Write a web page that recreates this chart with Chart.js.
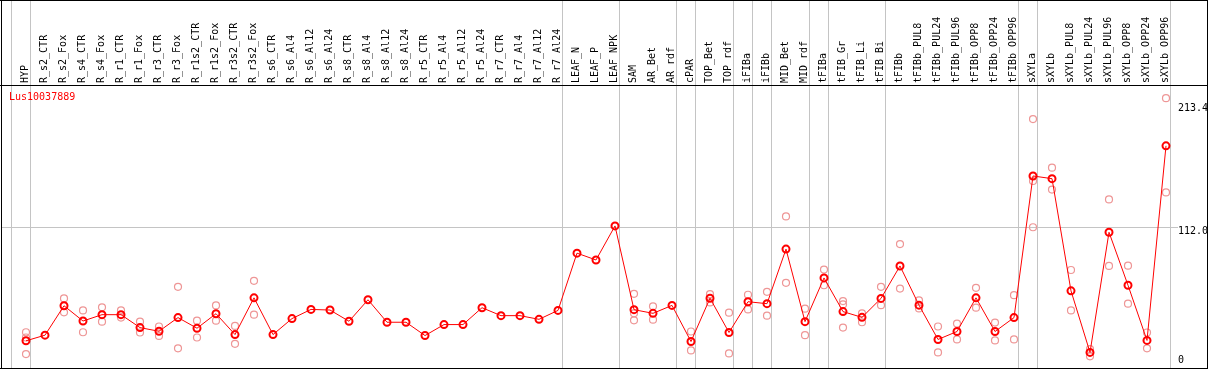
<!DOCTYPE html>
<html>
<head>
<meta charset="utf-8">
<script src="https://cdn.jsdelivr.net/npm/chart.js@4/dist/chart.umd.min.js"></script>
<style>
  html, body { margin: 0; padding: 0; background: #ffffff; }
  #wrap { width: 1209px; height: 370px; position: relative; }
</style>
</head>
<body>
<div id="wrap"><canvas id="c" width="1209" height="370"></canvas></div>
<script>
const geneName = "Lus10037889";

const categories = [
  "HYP","R_s2_CTR","R_s2_Fox","R_s4_CTR","R_s4_Fox","R_r1_CTR","R_r1_Fox","R_r3_CTR","R_r3_Fox",
  "R_r1s2_CTR","R_r1s2_Fox","R_r3s2_CTR","R_r3s2_Fox","R_s6_CTR","R_s6_Al4","R_s6_Al12","R_s6_Al24",
  "R_s8_CTR","R_s8_Al4","R_s8_Al12","R_s8_Al24","R_r5_CTR","R_r5_Al4","R_r5_Al12","R_r5_Al24",
  "R_r7_CTR","R_r7_Al4","R_r7_Al12","R_r7_Al24","LEAF_N","LEAF_P","LEAF_NPK","SAM","AR_Bet","AR_rdf",
  "cPAR","TOP_Bet","TOP_rdf","iFIBa","iFIBb","MID_Bet","MID_rdf","tFIBa","tFIB_Gr","tFIB_Li","tFIB_Bi",
  "tFIBb","tFIBb_PUL8","tFIBb_PUL24","tFIBb_PUL96","tFIBb_OPP8","tFIBb_OPP24","tFIBb_OPP96",
  "sXYLa","sXYLb","sXYLb_PUL8","sXYLb_PUL24","sXYLb_PUL96","sXYLb_OPP8","sXYLb_OPP24","sXYLb_OPP96"
];

const meanValues = [
  19.0, 23.6, 47.7, 35.2, 40.4, 40.4, 29.8, 26.8, 38.0,
  29.3, 41.2, 24.1, 54.2, 24.1, 37.2, 44.7, 44.2,
  35.0, 52.6, 34.2, 34.2, 23.3, 32.3, 32.3, 46.1,
  39.6, 39.6, 36.6, 43.9, 90.8, 85.2, 113.1, 44.5, 41.5, 48.0,
  18.4, 53.9, 25.8, 51.0, 49.4, 94.1, 34.7, 70.5, 42.9, 38.2, 53.7,
  80.3, 48.2, 20.1, 26.6, 54.2, 26.6, 38.0,
  154.0, 151.8, 59.9, 9.5, 107.9, 64.5, 19.3, 178.7
];

const rep1 = [
  26.0, null, 53.7, 43.9, 46.4, 43.9, 34.7, 30.7, 63.2,
  35.5, 48.0, 31.2, 68.1, null, null, null, null,
  null, null, null, null, null, null, null, null,
  null, null, null, null, null, null, null, 57.5, 47.2, null,
  26.6, 57.2, 42.0, 56.7, 59.1, 120.9, 45.3, 77.3, 51.5, 41.5, 63.2,
  98.2, 52.1, 30.7, 33.1, 62.4, 33.9, 56.4,
  200.6, 160.8, 77.0, 12.2, 134.8, 80.5, 25.8, 217.7
];

const rep2 = [
  21.7, null, 42.3, 26.0, 34.7, 38.0, 25.8, 23.0, 12.8,
  21.7, 35.5, 16.5, 40.4, null, null, null, null,
  null, null, null, null, null, null, null, null,
  null, null, null, null, null, null, null, 41.5, 36.3, null,
  11.1, 50.4, 8.7, 44.7, 39.6, 66.5, 23.6, 64.5, 48.8, 34.2, 48.2,
  61.8, 45.5, 9.5, 20.1, 46.1, 19.3, 20.1,
  149.9, 142.9, 43.9, 6.3, 80.3, 49.4, 12.8, 140.5
];

const rep3 = [
  8.1, null, null, null, null, null, null, null, null,
  null, null, null, null, null, null, null, null,
  null, null, null, null, null, null, null, null,
  null, null, null, null, null, null, null, 35.8, null, null,
  null, null, null, null, null, null, null, null, 29.8, null, null,
  null, null, null, null, null, null, null,
  112.0, null, null, null, null, null, null, null
];

// indices after which a group separator line is drawn
const groupEnds = [-1, 0, 28, 31, 34, 35, 37, 38, 39, 41, 42, 45, 52, 53, 60];

// y-axis tick labels
const yTickValues = [213.4, 112.0, 0];
const yTickLabels = ["213.4", "112.0", "0"];

const replicatePoints = [];
[rep1, rep2, rep3].forEach(arr => {
  arr.forEach((v, i) => { if (v !== null) replicatePoints.push({ x: categories[i], y: v }); });
});

const MONO = '"DejaVu Sans Mono", "Liberation Mono", monospace';

const decorPlugin = {
  id: 'decor',
  beforeDatasetsDraw(chart) {
    const ctx = chart.ctx;
    const xs = chart.scales.x, ys = chart.scales.y;
    ctx.save();
    ctx.fillStyle = '#c4c4c4';
    groupEnds.forEach(i => {
      const x = Math.floor(xs.getPixelForValue(i) + 4.5);
      ctx.fillRect(x, 0, 1, 369);
    });
    const gy = Math.floor(ys.getPixelForValue(112.0));
    ctx.fillRect(1, gy, 1177, 1);
    ctx.restore();
  },
  afterDraw(chart) {
    const ctx = chart.ctx;
    const ys = chart.scales.y;
    ctx.save();
    ctx.fillStyle = '#000000';
    ctx.fillRect(0, 0, 1208, 1);
    ctx.fillRect(0, 368, 1208, 1);
    ctx.fillRect(1, 0, 1, 369);
    ctx.fillRect(1207, 0, 1, 369);
    ctx.fillRect(0, 85, 1208, 1);
    ctx.font = '10px ' + MONO;
    ctx.textAlign = 'left';
    ctx.textBaseline = 'middle';
    yTickValues.forEach((v, k) => {
      const py = ys.getPixelForValue(v);
      const off = v === 0 ? -4 : 4.5;
      ctx.fillText(yTickLabels[k], 1178, py + off);
    });
    ctx.fillStyle = '#ff0000';
    ctx.fillText(geneName, 9, 97);
    ctx.restore();
  }
};

new Chart(document.getElementById('c'), {
  type: 'line',
  data: {
    labels: categories,
    datasets: [
      {
        label: 'mean',
        data: meanValues,
        borderColor: '#ff0000',
        borderWidth: 1,
        pointRadius: 3.5,
        pointBorderWidth: 2,
        pointBorderColor: '#ff0000',
        pointBackgroundColor: 'rgba(0,0,0,0)',
        tension: 0,
        fill: false
      },
      {
        label: 'replicates',
        data: replicatePoints,
        showLine: false,
        pointRadius: 3.5,
        pointBorderWidth: 1.2,
        pointBorderColor: 'rgb(238,150,150)',
        pointBackgroundColor: 'rgba(0,0,0,0)'
      }
    ]
  },
  options: {
    responsive: false,
    animation: false,
    devicePixelRatio: 1,
    layout: { padding: { left: 26, right: 43, top: 0, bottom: 4 } },
    plugins: { legend: { display: false }, tooltip: { enabled: false }, title: { display: false } },
    scales: {
      x: {
        type: 'category',
        position: 'top',
        offset: false,
        grid: { display: false, drawTicks: false },
        border: { display: false },
        ticks: {
          autoSkip: false,
          minRotation: 90,
          maxRotation: 90,
          padding: 3,
          labelOffset: 11.5,
          color: '#000000',
          font: { family: MONO, size: 10 }
        },
        afterFit(scale) { scale.height = 86; }
      },
      y: {
        display: false,
        min: 0,
        max: 227.7
      }
    }
  },
  plugins: [decorPlugin]
});
</script>
</body>
</html>
